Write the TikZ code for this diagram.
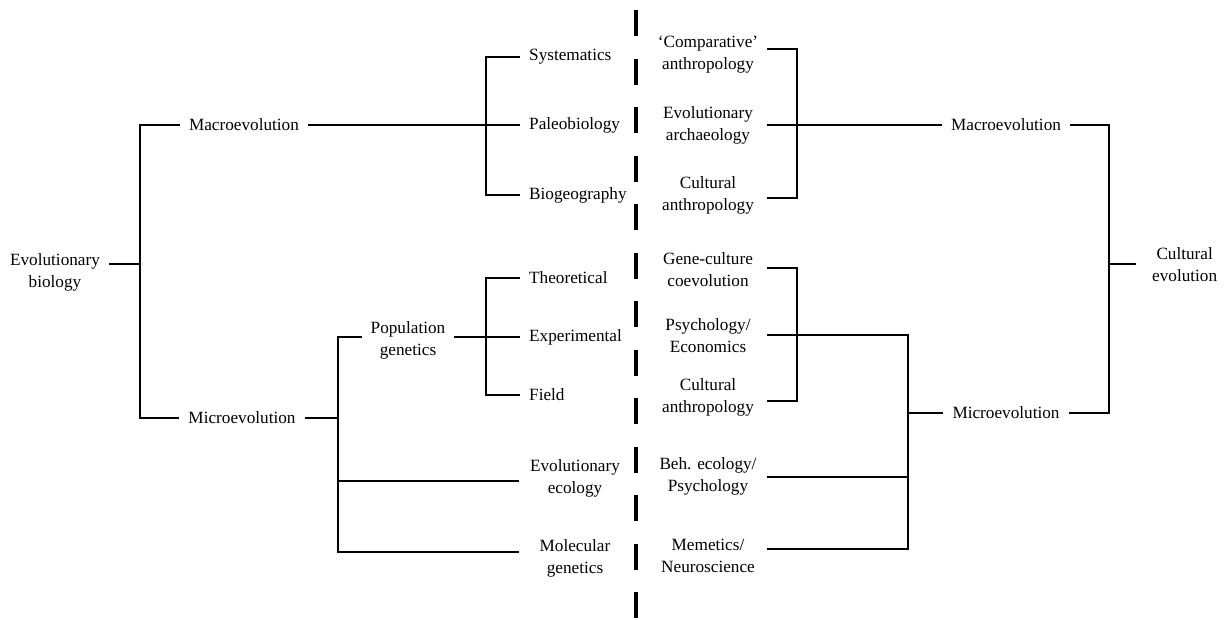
\documentclass[tikz,border=0pt]{standalone}
\usepackage{fontspec}
\setmainfont{Liberation Serif}
\begin{document}
\begin{tikzpicture}[x=1pt,y=-1pt,
  lbl/.style={font=\fontsize{17.2}{22}\selectfont, align=center, inner xsep=9pt, inner ysep=2pt},
  link/.style={line width=1.2pt, line join=miter},
  divider/.style={line width=4pt, dash pattern=on 26pt off 22.5pt}]
\useasboundingbox (0,0) rectangle (1227,619);

% ---------- left: biology ----------
\node[lbl] (evo) at (55,272) {Evolutionary\\biology};
\node[lbl] (macL) at (244,125) {Macroevolution};
\node[lbl] (micL) at (242,418) {Microevolution};
\node[lbl,anchor=west] (sys) at (520,57) {Systematics};
\node[lbl,anchor=west] (pal) at (520,125) {Paleobiology};
\node[lbl,anchor=west] (bio) at (520,195) {Biogeography};
\node[lbl,anchor=west] (theo) at (520,278) {Theoretical};
\node[lbl,anchor=west] (expm) at (520,337) {Experimental};
\node[lbl,anchor=west] (fld) at (520,395) {Field};
\node[lbl] (pop) at (408,340) {Population\\genetics};
\node[lbl] (eco) at (575,478) {Evolutionary\\ecology};
\node[lbl] (mol) at (575,558) {Molecular\\genetics};

\coordinate (a1) at (140,125);
\coordinate (a2) at (140,264);
\coordinate (a3) at (140,418);
\draw[link] (macL.west) -- (a1) -- (a3) -- (micL.west);
\draw[link] (evo.east |- a2) -- (a2);

\coordinate (b1) at (486,57);
\coordinate (b3) at (486,195);
\draw[link] (sys.west) -- (b1) -- (b3) -- (bio.west);
\draw[link] (macL.east) -- (pal.west);

\coordinate (c1) at (338,337);
\coordinate (c2) at (338,418);
\coordinate (c3) at (338,481);
\coordinate (c4) at (338,552);
\coordinate (cx) at (519,0);
\draw[link] (pop.west |- c1) -- (c1) -- (c4) -- (cx |- c4);
\draw[link] (micL.east) -- (c2);
\draw[link] (c3) -- (cx |- c3);

\coordinate (d1) at (486,278);
\coordinate (d3) at (486,395);
\draw[link] (theo.west) -- (d1) -- (d3) -- (fld.west);
\draw[link] (pop.east |- expm.west) -- (expm.west);

% ---------- divider ----------
\coordinate (dtop) at (636,10);
\coordinate (dbot) at (636,619);
\draw[divider] (dtop) -- (dbot);

% ---------- right: culture ----------
\node[lbl] (rca) at (708,55) {`Comparative'\\anthropology};
\node[lbl] (rea) at (708,125) {Evolutionary\\archaeology};
\node[lbl] (rcb) at (708,195) {Cultural\\anthropology};
\node[lbl] (rgc) at (708,270) {Gene-culture\\coevolution};
\node[lbl] (rpe) at (708,336) {Psychology/\\Economics};
\node[lbl] (rcc) at (708,397) {Cultural\\anthropology};
\node[lbl] (rbp) at (708,476) {Beh. ecology/\\Psychology};
\node[lbl] (rmn) at (708,556) {Memetics/\\Neuroscience};
\node[lbl] (macR) at (1006,125) {Macroevolution};
\node[lbl] (micR) at (1006,413) {Microevolution};
\node[lbl,anchor=west] (cev) at (1143,265) {Cultural\\evolution};

\coordinate (R0) at (767,0);

\coordinate (e1) at (797,49);
\coordinate (e2) at (797,125);
\coordinate (e3) at (797,198);
\draw[link] (e1 -| R0) -- (e1) -- (e3) -- (e3 -| R0);
\draw[link] (e2 -| R0) -- (macR.west);

\coordinate (f1) at (797,268);
\coordinate (f3) at (797,401);
\draw[link] (f1 -| R0) -- (f1) -- (f3) -- (f3 -| R0);

\coordinate (g1) at (908,335);
\coordinate (g2) at (908,413);
\coordinate (g3) at (908,477);
\coordinate (g4) at (908,549);
\draw[link] (g1 -| R0) -- (g1) -- (g4) -- (g4 -| R0);
\draw[link] (g3 -| R0) -- (g3);
\draw[link] (g2) -- (micR.west);

\coordinate (h1) at (1109,125);
\coordinate (h2) at (1109,264);
\coordinate (h3) at (1109,413);
\coordinate (hx) at (1136,0);
\draw[link] (macR.east) -- (h1) -- (h3) -- (micR.east);
\draw[link] (h2) -- (hx |- h2);
\end{tikzpicture}
\end{document}
